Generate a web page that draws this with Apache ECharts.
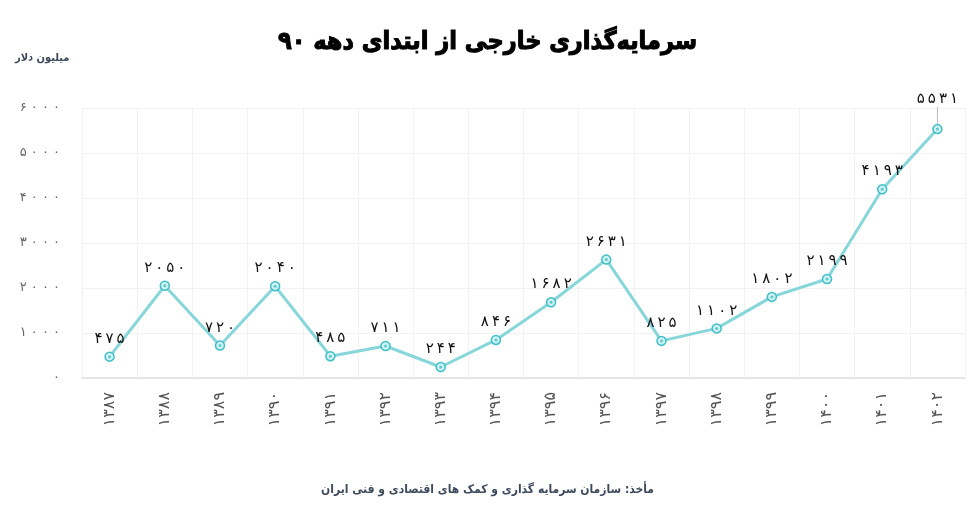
<!DOCTYPE html>
<html><head><meta charset="utf-8">
<script src="https://cdn.jsdelivr.net/npm/echarts@6/dist/echarts.min.js"></script>
<style>html,body{margin:0;padding:0;background:#fff}#c{width:975px;height:508px}</style>
</head><body><div id="c"></div>
<script>
const years = ['1387','1388','1389','1390','1391','1392','1393','1394','1395','1396','1397','1398','1399','1400','1401','1402'];
const values = [475, 2050, 720, 2040, 485, 711, 244, 846, 1682, 2631, 825, 1102, 1802, 2199, 4193, 5531];
const yTicks = [0, 1000, 2000, 3000, 4000, 5000, 6000];
const titleText = 'سرمایه‌گذاری خارجی از ابتدای دهه ۹۰';
const unitText = 'میلیون دلار';
const sourceText = 'مأخذ: سازمان سرمایه گذاری و کمک های اقتصادی و فنی ایران';

const fa = '۰۱۲۳۴۵۶۷۸۹';
function toFa(s, sep) {
  return String(s).split('').map(c => /[0-9]/.test(c) ? fa[+c] : c).join(sep || '');
}
const FONT = 'DejaVu Sans';
const FONTC = '"DejaVu Sans Condensed", "DejaVu Sans"';
const lineData = values.map((v, i) => i === values.length - 1
  ? { value: v, labelLine: { show: true, lineStyle: { color: '#bbb', width: 1 } } }
  : v);
const chart = echarts.init(document.getElementById('c'));
chart.setOption({
  backgroundColor: '#fff',
  animation: false,
  title: [
    { text: titleText, left: 'center', top: 25, textStyle: { fontFamily: FONTC, fontSize: 25, fontWeight: 'bold', color: '#000',
      textBorderColor: '#000', textBorderWidth: 1 } },
    { text: unitText, left: 10, top: 48, textStyle: { fontFamily: FONTC, fontSize: 11, fontWeight: 'bold', color: '#3d4a5c' } },
    { text: sourceText, left: 'center', top: 479, textStyle: { fontFamily: FONTC, fontSize: 12, fontWeight: 'bold', color: '#3d4a5c' } }
  ],
  grid: { left: 82, right: 10, top: 108, bottom: 130, containLabel: false },
  xAxis: {
    type: 'category',
    data: years,
    boundaryGap: true,
    axisLine: { show: true, lineStyle: { color: '#e6e6e6', width: 2 } },
    axisTick: { show: false },
    splitLine: { show: true, lineStyle: { color: '#f2f2f2', width: 1 } },
    axisLabel: { rotate: 90, margin: 14, fontFamily: FONT, fontSize: 16, color: '#555', interval: 0,
      formatter: v => toFa(v) }
  },
  yAxis: {
    type: 'value', min: 0, max: 6000, interval: 1000,
    axisLine: { show: false },
    axisTick: { show: false },
    splitLine: { show: true, lineStyle: { color: '#f2f2f2', width: 1 } },
    axisLabel: { margin: 22, fontFamily: FONT, fontSize: 13, color: '#666',
      formatter: v => yTicks.indexOf(v) >= 0 ? toFa(v, ' ') : '' }
  },
  series: [
    {
      type: 'line',
      data: lineData,
      symbol: 'circle',
      symbolSize: 9,
      lineStyle: { color: '#86d6da', width: 3 },
      itemStyle: { color: '#d2f1f2', borderColor: '#3fc0c8', borderWidth: 1.5 },
      label: { show: true, position: 'top', distance: 5, fontFamily: FONT, fontSize: 15, color: '#111',
        formatter: p => toFa(p.value, '\u2009') },
      labelLine: { show: false },
      labelLayout: p => p.dataIndex === values.length - 1 ? { dy: -12 } : {},
      z: 2
    },
    {
      type: 'scatter',
      data: values,
      symbol: 'circle',
      symbolSize: 3,
      itemStyle: { color: '#3fc0c8' },
      silent: true,
      z: 3
    }
  ]
});
</script></body></html>
